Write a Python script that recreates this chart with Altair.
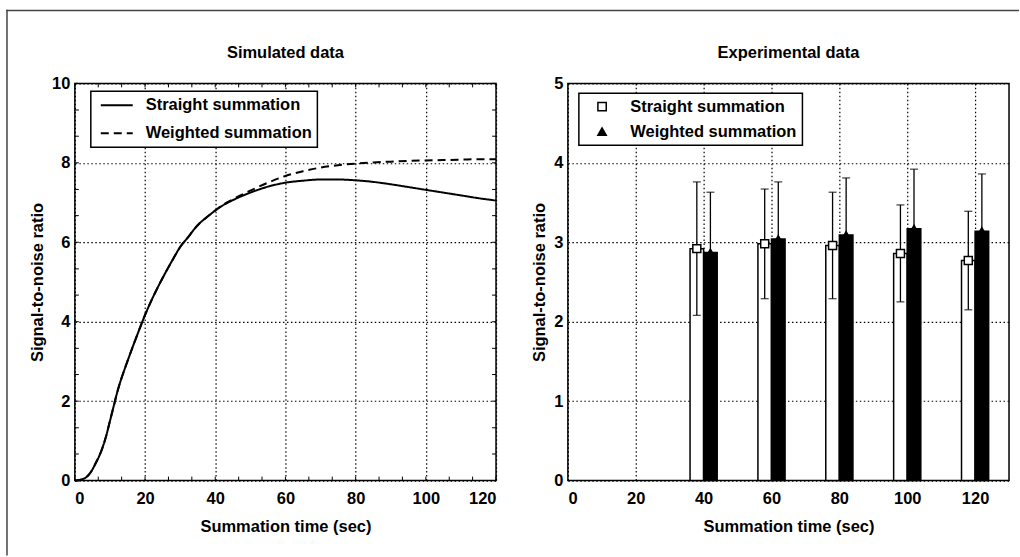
import altair as alt
import pandas as pd

# ---------------- data ----------------
sim_series = ["Straight summation", "Weighted summation"]
sim_time = [0, 1, 2, 3, 4, 5, 6, 7, 8, 9, 10, 11, 12, 13, 14, 16, 18, 20, 22, 25, 28, 30,
            32, 35, 38, 40, 42, 45, 50, 55, 60, 65, 70, 75, 80, 85, 90, 95, 100, 105, 110, 115, 120]
sim_straight = [0, 0.01, 0.03, 0.07, 0.15, 0.28, 0.45, 0.63, 0.86, 1.15, 1.5, 1.85, 2.2, 2.5, 2.76,
                3.25, 3.72, 4.17, 4.57, 5.1, 5.58, 5.88, 6.1, 6.43, 6.66, 6.8, 6.92, 7.06, 7.25, 7.4,
                7.5, 7.55, 7.58, 7.58, 7.56, 7.52, 7.46, 7.39, 7.32, 7.25, 7.18, 7.11, 7.05]
sim_weighted = [0, 0.01, 0.03, 0.07, 0.15, 0.28, 0.45, 0.63, 0.86, 1.15, 1.5, 1.85, 2.2, 2.5, 2.76,
                3.25, 3.72, 4.17, 4.57, 5.1, 5.58, 5.88, 6.1, 6.43, 6.66, 6.8, 6.93, 7.08, 7.3, 7.5,
                7.67, 7.79, 7.88, 7.94, 7.98, 8.01, 8.03, 8.05, 8.06, 8.07, 8.08, 8.09, 8.09]

exp_series = ["Straight summation", "Weighted summation"]
exp_time = [40, 60, 80, 100, 120]
exp_straight_mean = [2.92, 2.98, 2.96, 2.86, 2.77]
exp_straight_err = [0.84, 0.69, 0.67, 0.61, 0.62]
exp_weighted_mean = [2.87, 3.04, 3.09, 3.17, 3.14]
exp_weighted_err = [0.76, 0.72, 0.72, 0.75, 0.72]
bar_width = 4

left_title = "Simulated data"
right_title = "Experimental data"
left_x_ticks = [0, 20, 40, 60, 80, 100, 120]
left_y_ticks = [0, 2, 4, 6, 8, 10]
right_x_ticks = [0, 20, 40, 60, 80, 100, 120]
right_y_ticks = [0, 1, 2, 3, 4, 5]
left_minor_x = [0, 6.67, 13.33, 20, 26.67, 33.33, 40, 46.67, 53.33, 60, 66.67, 73.33, 80,
                86.67, 93.33, 100, 106.67, 113.33, 120]
left_minor_y = [0, 0.67, 1.33, 2, 2.67, 3.33, 4, 4.67, 5.33, 6, 6.67, 7.33, 8, 8.67, 9.33, 10]

# ---------------- style ----------------
FONT = "Liberation Sans"
FS = 16.5
LW, LH = 422, 398
RW, RH = 442, 398
XT = "Summation time (sec)"
YT = "Signal-to-noise ratio"
one_row = alt.InlineData(values=[{"k": 1}])


def panel_title(text, w):
    return alt.Chart(one_row).mark_text(
        text=text, font=FONT, fontSize=FS, fontWeight="bold", color="black",
        align="center", baseline="alphabetic",
    ).encode(x=alt.value(w / 2), y=alt.value(-25))


# ---------------- left panel ----------------
sim_df = pd.DataFrame({
    "time": sim_time + sim_time,
    "snr": sim_straight + sim_weighted,
    "curve": [sim_series[0]] * len(sim_time) + [sim_series[1]] * len(sim_time),
})

lx = lambda f: alt.X(f, scale=alt.Scale(domain=[0, 120], nice=False),
                     axis=alt.Axis(values=left_x_ticks), title=XT)
ly = lambda f: alt.Y(f, scale=alt.Scale(domain=[0, 10], nice=False),
                     axis=alt.Axis(values=left_y_ticks), title=YT)

lines = alt.Chart(sim_df).mark_line(color="black", strokeWidth=2, interpolate="monotone").encode(
    x=lx("time:Q"),
    y=ly("snr:Q"),
    strokeDash=alt.StrokeDash(
        "curve:N",
        scale=alt.Scale(domain=sim_series, range=[[1, 0], [8, 5]]),
        legend=alt.Legend(
            title=None, orient="none", legendX=16, legendY=8, direction="vertical",
            symbolType="M-2,0H2", symbolSize=256, symbolStrokeWidth=2,
            symbolStrokeColor="black", symbolOffset=12, labelOffset=20,
            padding=5, rowPadding=10, labelLimit=400,
        ),
    ),
)

mx_df = pd.DataFrame({"time": left_minor_x})
my_df = pd.DataFrame({"snr": left_minor_y})
tick_style = dict(color="black", strokeWidth=1)
tb = alt.Chart(mx_df).mark_rule(**tick_style).encode(x=lx("time:Q"), y=alt.value(LH), y2=alt.value(LH - 4))
tt = alt.Chart(mx_df).mark_rule(**tick_style).encode(x=lx("time:Q"), y=alt.value(0), y2=alt.value(4))
tl = alt.Chart(my_df).mark_rule(**tick_style).encode(y=ly("snr:Q"), x=alt.value(0), x2=alt.value(4))
tr = alt.Chart(my_df).mark_rule(**tick_style).encode(y=ly("snr:Q"), x=alt.value(LW), x2=alt.value(LW - 4))

# outer figure frame (left and top edges only), thin filled strips relative to the left plot area
frame_left = alt.Chart(one_row).mark_rect(color="#444444", strokeWidth=0).encode(
    x=alt.value(-68.75), x2=alt.value(-67.25), y=alt.value(-73.75), y2=alt.value(473))
frame_top = alt.Chart(one_row).mark_rect(color="#444444", strokeWidth=0).encode(
    x=alt.value(-68.75), x2=alt.value(946), y=alt.value(-73.75), y2=alt.value(-72.25))

left = alt.layer(tb, tt, tl, tr, lines, frame_left, frame_top,
                 panel_title(left_title, LW)).properties(width=LW, height=LH)

# ---------------- right panel ----------------
rows = []
for i, t in enumerate(exp_time):
    m, e = exp_straight_mean[i], exp_straight_err[i]
    rows.append({"series": exp_series[0], "time": t, "mean": m, "lo": m - e, "hi": m + e,
                 "x0": t - bar_width, "x1": t, "xc": t - bar_width / 2})
    m, e = exp_weighted_mean[i], exp_weighted_err[i]
    rows.append({"series": exp_series[1], "time": t, "mean": m, "lo": m - e, "hi": m + e,
                 "x0": t, "x1": t + bar_width, "xc": t + bar_width / 2})
exp_df = pd.DataFrame(rows)

rx = lambda f: alt.X(f, scale=alt.Scale(domain=[0, 130], nice=False),
                     axis=alt.Axis(values=right_x_ticks), title=XT)
ry = lambda f: alt.Y(f, scale=alt.Scale(domain=[0, 5], nice=False),
                     axis=alt.Axis(values=right_y_ticks), title=YT)

base = alt.Chart(exp_df)
bars_s = base.transform_filter(alt.datum.series == exp_series[0]).mark_bar(
    fill="white", stroke="black", strokeWidth=1.5).encode(
    x=rx("x0:Q"), x2="x1:Q", y=ry("mean:Q"), y2=alt.datum(0))
bars_w = base.transform_filter(alt.datum.series == exp_series[1]).mark_bar(
    fill="black", stroke="black", strokeWidth=1.5).encode(
    x=rx("x0:Q"), x2="x1:Q", y=ry("mean:Q"), y2=alt.datum(0))
err = base.mark_rule(color="black", strokeWidth=1.3).encode(
    x=rx("xc:Q"), y=ry("lo:Q"), y2="hi:Q")
cap_hi = base.mark_tick(color="black", orient="horizontal", size=8, thickness=1.3).encode(
    x=rx("xc:Q"), y=ry("hi:Q"))
cap_lo = base.mark_tick(color="black", orient="horizontal", size=8, thickness=1.3).encode(
    x=rx("xc:Q"), y=ry("lo:Q"))

pleg = alt.Legend(
    title=None, orient="none", legendX=11, legendY=10, direction="vertical",
    symbolSize=70, symbolStrokeColor="black", symbolStrokeWidth=1.5,
    symbolOffset=10, labelOffset=20, padding=5, rowPadding=8, labelLimit=400,
)
points = base.mark_point(filled=True, size=64, strokeWidth=1.5, opacity=1).encode(
    x=rx("xc:Q"), y=ry("mean:Q"),
    shape=alt.Shape("series:N", scale=alt.Scale(domain=exp_series, range=["square", "triangle-up"]),
                    legend=pleg),
    fill=alt.Fill("series:N", scale=alt.Scale(domain=exp_series, range=["white", "black"]),
                  legend=pleg),
    stroke=alt.Stroke("series:N", scale=alt.Scale(domain=exp_series, range=["black", "black"]),
                      legend=pleg),
)

right = alt.layer(bars_s, bars_w, err, cap_hi, cap_lo, points,
                  panel_title(right_title, RW)).properties(width=RW, height=RH)

chart = alt.hconcat(left, right, spacing=72, bounds="flush").resolve_scale(
    strokeDash="independent", shape="independent", fill="independent", stroke="independent"
).resolve_legend(
    strokeDash="independent", shape="independent", fill="independent", stroke="independent"
).properties(
    padding={"left": 5, "top": 8, "right": 0, "bottom": 0},
    background="white",
).configure_view(
    stroke="black", strokeWidth=1.5
).configure_axis(
    grid=True, gridColor="black", gridDash=[1.5, 2.5], gridWidth=1.2, gridOpacity=1,
    domain=False, ticks=False,
    labelFont=FONT, labelFontSize=FS, labelFontWeight="bold", labelColor="black",
    titleFont=FONT, titleFontSize=FS, titleFontWeight="bold", titleColor="black",
).configure_axisX(
    labelPadding=10, titlePadding=11, labelAngle=0,
).configure_axisY(
    labelPadding=5, titlePadding=6,
).configure_legend(
    strokeColor="black", fillColor="white", cornerRadius=0, strokeWidth=1.5,
    labelFont=FONT, labelFontSize=FS, labelFontWeight="bold", labelColor="black",
)

chart.save("out.html", embed_options={"renderer": "svg", "actions": False})
